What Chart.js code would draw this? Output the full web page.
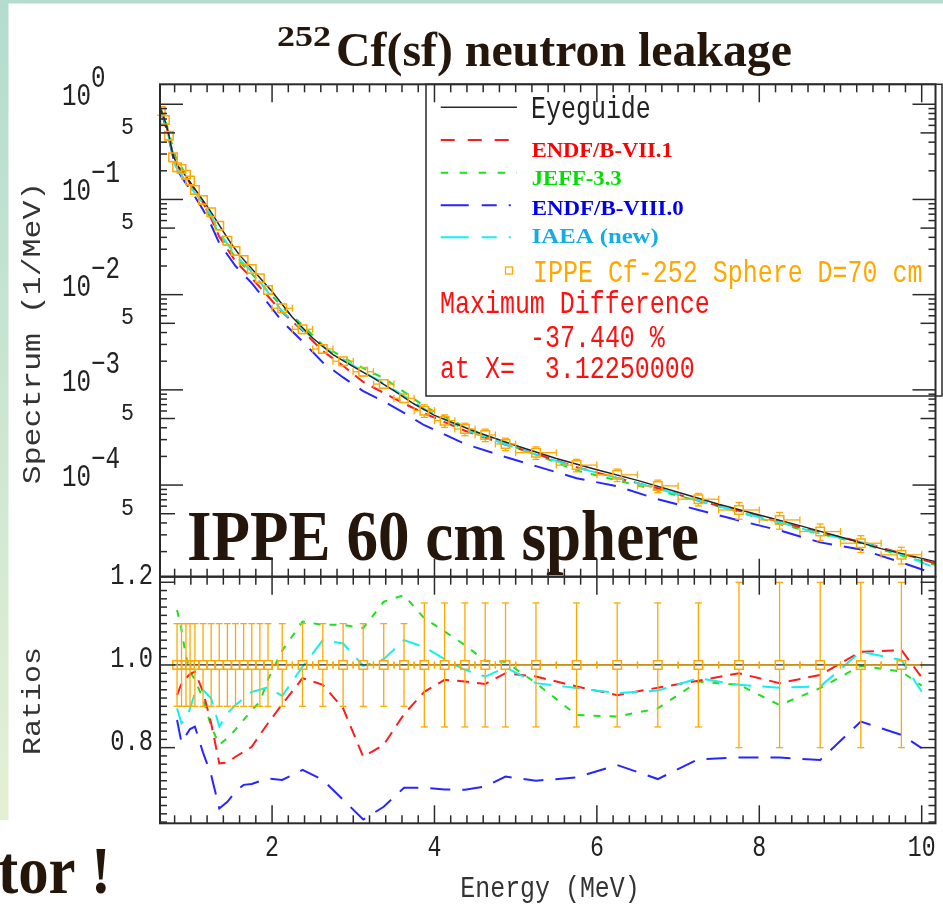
<!DOCTYPE html>
<html>
<head>
<meta charset="utf-8">
<script src="https://cdn.jsdelivr.net/npm/chart.js@4.4.1/dist/chart.umd.min.js"></script>
<style>
  html, body { margin: 0; padding: 0; background: #fff; }
  #wrap { position: relative; width: 943px; height: 909px; overflow: hidden; }
  #wrap canvas { position: absolute; left: 0; top: 0; }
</style>
</head>
<body>
<div id="wrap">
  <canvas id="spec" width="943" height="909"></canvas>
  <canvas id="ratio" width="943" height="909"></canvas>
</div>
<script>
// IPPE measured leakage spectrum (1/MeV) with relative errors and bin half-widths (MeV)
const energy = [0.63, 0.68, 0.73, 0.78, 0.83, 0.885, 0.94, 0.99, 1.05, 1.15, 1.25, 1.35, 1.45, 1.55, 1.65, 1.75, 1.85, 1.95,
    2.125, 2.375, 2.625, 2.875, 3.1225, 3.375, 3.625, 3.875, 4.125, 4.375, 4.625, 4.875,
    5.25, 5.75, 6.25, 6.75, 7.25, 7.75, 8.25, 8.75, 9.25, 9.75];
const ippe = [0.851, 0.684, 0.468, 0.277, 0.218, 0.209, 0.182, 0.158, 0.126, 0.0988, 0.0734, 0.0531, 0.0369, 0.0288, 0.0231, 0.0186, 0.0149, 0.0112,
    0.0072, 0.00433, 0.00269, 0.00200, 0.00155, 0.00115, 0.000816, 0.000605, 0.000475, 0.000388, 0.000336, 0.000270,
    0.000219, 0.000162, 0.000128, 0.000098, 0.000071, 0.0000547, 0.0000430, 0.0000325, 0.0000245, 0.0000185];
const ippeErr = [0.1, 0.1, 0.1, 0.1, 0.1, 0.1, 0.1, 0.1, 0.1, 0.1, 0.1, 0.1, 0.1, 0.1, 0.1, 0.1, 0.1, 0.1,
    0.1, 0.1, 0.1, 0.1, 0.1, 0.1, 0.1, 0.15, 0.15, 0.15, 0.15, 0.15,
    0.15, 0.15, 0.15, 0.15, 0.15, 0.2, 0.2, 0.2, 0.2, 0.2];
const halfBin = [0.025, 0.025, 0.025, 0.025, 0.025, 0.025, 0.025, 0.025, 0.05, 0.05, 0.05, 0.05, 0.05, 0.05, 0.05, 0.05, 0.05, 0.05,
    0.125, 0.125, 0.125, 0.125, 0.125, 0.125, 0.125, 0.125, 0.125, 0.125, 0.125, 0.125,
    0.25, 0.25, 0.25, 0.25, 0.25, 0.25, 0.25, 0.25, 0.25, 0.25];

// eyeguide through the measurement
const eyeE = [0.62, 0.68, 0.73, 0.78, 0.84, 0.9, 1.0, 1.1, 1.2, 1.3, 1.4, 1.5, 1.6, 1.8, 2.0, 2.25, 2.5, 2.75, 3.0, 3.25, 3.5, 3.75,
    4.0, 4.5, 5.0, 5.5, 6.0, 6.5, 7.0, 7.5, 8.0, 8.5, 9.0, 9.5, 10.17];
const eyeY = [0.92, 0.68, 0.47, 0.29, 0.225, 0.195, 0.148, 0.112, 0.085, 0.063, 0.046, 0.034, 0.026, 0.0168, 0.0108, 0.0058, 0.0035, 0.00235,
    0.00175, 0.00133, 0.00098, 0.00071, 0.00054, 0.000365, 0.00026, 0.00019, 0.000145, 0.000112, 0.000084, 0.000063, 0.0000485,
    0.0000375, 0.0000285, 0.0000215, 0.0000157];

// calculated spectra (1/MeV)
const calcE = [0.62, 0.7, 0.81, 0.935, 1.05, 1.15, 1.25, 1.35, 1.55, 1.75, 1.95, 2.125, 2.375, 2.625, 2.875, 3.1225, 3.375, 3.625, 3.875,
    4.375, 4.875, 5.25, 5.75, 6.25, 6.75, 7.25, 7.75, 8.25, 8.75, 9.25, 9.75, 10.17];
const endf71 = [0.94, 0.60, 0.232, 0.174, 0.124, 0.0924, 0.0631, 0.0405, 0.0224, 0.0149, 0.00962, 0.00652, 0.00419, 0.00256, 0.00179, 0.00121,
    0.000928, 0.000719, 0.000566, 0.000372, 0.000265, 0.000213, 0.000154, 0.000119, 0.0000926, 0.0000683, 0.0000536, 0.0000411,
    0.0000317, 0.0000253, 0.0000192, 0.0000150];
const jeff33 = [0.93, 0.62, 0.283, 0.184, 0.121, 0.0908, 0.0625, 0.0429, 0.0243, 0.0166, 0.0108, 0.00743, 0.00478, 0.00295, 0.00219, 0.00169,
    0.00133, 0.000954, 0.000673, 0.000407, 0.000272, 0.000209, 0.000142, 0.000112, 0.0000877, 0.0000682, 0.0000521, 0.0000388,
    0.0000307, 0.0000245, 0.0000182, 0.0000145];
const endf80 = [0.90, 0.55, 0.217, 0.149, 0.107, 0.0779, 0.0539, 0.0347, 0.020, 0.0132, 0.00812, 0.0052, 0.00323, 0.00194, 0.00135, 0.00097,
    0.000756, 0.000574, 0.000425, 0.000271, 0.000197, 0.000158, 0.000118, 0.000097, 0.000071, 0.0000548, 0.0000424, 0.0000334,
    0.000025, 0.0000211, 0.0000154, 0.0000116];
const iaea = [0.93, 0.58, 0.224, 0.157, 0.117, 0.0929, 0.0675, 0.0452, 0.026, 0.0174, 0.0106, 0.00666, 0.00431, 0.00285, 0.0021, 0.00155,
    0.00117, 0.000865, 0.000631, 0.000383, 0.000268, 0.000209, 0.000153, 0.000119, 0.0000919, 0.0000687, 0.0000521, 0.0000406,
    0.0000308, 0.0000253, 0.0000187, 0.0000135];

// C/E ratios
const ratioE = [0.83, 0.885, 0.94, 0.99, 1.05, 1.15, 1.25, 1.35, 1.45, 1.55, 1.65, 1.75, 1.85, 1.95, 2.125, 2.375, 2.625, 2.875, 3.1225,
    3.375, 3.625, 3.875, 4.125, 4.375, 4.625, 4.875, 5.25, 5.75, 6.25, 6.75, 7.25, 7.75, 8.25, 8.75, 9.25, 9.75, 10.0];
const ratioEndf71 = [0.927, 0.955, 0.968, 0.978, 0.984, 0.935, 0.859, 0.762, 0.764, 0.778, 0.790, 0.802, 0.831, 0.859, 0.905, 0.968, 0.952,
    0.895, 0.778, 0.807, 0.881, 0.935, 0.964, 0.960, 0.954, 0.980, 0.972, 0.948, 0.927, 0.945, 0.962, 0.980, 0.956, 0.976, 1.032, 1.036, 0.970];
const ratioJeff33 = [1.133, 1.085, 1.02, 0.984, 0.964, 0.919, 0.851, 0.807, 0.823, 0.844, 0.867, 0.891, 0.911, 0.965, 1.035, 1.105, 1.097,
    1.097, 1.089, 1.153, 1.169, 1.113, 1.081, 1.048, 1.010, 1.008, 0.956, 0.879, 0.875, 0.895, 0.960, 0.952, 0.903, 0.944, 0.998, 0.984, 0.950];
const ratioEndf80 = [0.867, 0.812, 0.83, 0.845, 0.851, 0.788, 0.734, 0.653, 0.669, 0.694, 0.71, 0.712, 0.719, 0.725, 0.722, 0.746, 0.722,
    0.674, 0.626, 0.657, 0.703, 0.703, 0.699, 0.698, 0.706, 0.73, 0.72, 0.728, 0.758, 0.724, 0.772, 0.776, 0.776, 0.77, 0.863, 0.831, 0.799];
const ratioIaea = [0.895, 0.859, 0.87, 0.895, 0.932, 0.94, 0.919, 0.851, 0.883, 0.903, 0.919, 0.935, 0.94, 0.946, 0.925, 0.996, 1.06,
    1.052, 0.998, 1.014, 1.06, 1.043, 1.014, 0.988, 0.972, 0.994, 0.956, 0.944, 0.932, 0.938, 0.968, 0.952, 0.945, 0.948, 1.032, 1.012, 0.935];
// measurement on the ratio panel (points from 0.83 MeV up)
const ippeRatio = [1, 1, 1, 1, 1, 1, 1, 1, 1, 1, 1, 1, 1, 1, 1, 1, 1, 1, 1, 1, 1, 1, 1, 1, 1, 1, 1, 1, 1, 1, 1, 1, 1, 1, 1, 1];
const eyeRatioE = [0.79, 10.0];
const eyeRatio = [1, 1];

const ORANGE = '#ffa800';
const RED = '#ff1c1c';
const GREEN = '#1ee01e';
const BLUE = '#2626ff';
const CYAN = '#12f0f0';
const INK = '#24160a';
const MONO = '"Liberation Mono", monospace';
const SERIF = '"Liberation Serif", serif';

const pts = (xs, ys) => xs.map((x, i) => ({ x, y: ys[i] }));

function line(ctx, x1, y1, x2, y2) {
    ctx.beginPath();
    ctx.moveTo(x1, y1);
    ctx.lineTo(x2, y2);
    ctx.stroke();
}

function label(ctx, s, x, y, o) {
    ctx.save();
    ctx.font = o.font;
    ctx.fillStyle = o.color || '#222';
    ctx.textAlign = o.align || 'left';
    ctx.textBaseline = 'alphabetic';
    let sx = o.sx || 1;
    if (o.width) sx = o.width / ctx.measureText(s).width;
    ctx.translate(x, y);
    if (o.rotate) {
        ctx.rotate(o.rotate);
        ctx.scale(1, o.sy || 1);
    } else {
        ctx.scale(sx, 1);
    }
    ctx.fillText(s, 0, 0);
    ctx.restore();
}

// frame with inward ticks on all four sides plus y tick labels
const axisFrame = {
    id: 'axisFrame',
    afterDraw(chart, args, opts) {
        const { ctx, chartArea: a, scales: { x, y } } = chart;
        ctx.save();
        ctx.strokeStyle = '#2a2a2a';
        ctx.lineWidth = 1.5;
        for (let k = 4; k <= 51; k++) {
            const v = k / 5;
            if (v < x.min || v > x.max) continue;
            const px = x.getPixelForValue(v);
            const len = k % 10 === 0 ? 18 : 8;
            line(ctx, px, a.bottom, px, a.bottom - len);
            line(ctx, px, a.top, px, a.top + len);
        }
        const yt = [];
        if (opts.kind === 'log') {
            for (let e = -5; e <= 0; e++) {
                for (let m = 1; m <= 9; m++) {
                    const v = m * Math.pow(10, e);
                    if (v >= y.min && v <= y.max) yt.push([v, m === 1 ? 23 : m === 5 ? 15 : 7]);
                }
            }
        } else {
            for (let k = 31; k <= 60; k++) yt.push([k / 50, k % 10 === 0 ? 15 : 7]);
        }
        yt.forEach(([v, len]) => {
            const py = y.getPixelForValue(v);
            line(ctx, a.left, py, a.left + len, py);
            line(ctx, a.right, py, a.right - len, py);
        });
        ctx.lineWidth = 2;
        ctx.strokeRect(a.left, a.top, a.right - a.left, a.bottom - a.top);
        ctx.restore();

        if (opts.kind === 'log') {
            for (let e = 0; e >= -4; e--) {
                const py = y.getPixelForValue(Math.pow(10, e));
                label(ctx, '10', 62, py + 1, { font: `31px ${MONO}`, sx: 0.78 });
                label(ctx, e === 0 ? '0' : '\u2212' + (-e), 91, py - 17, { font: `31px ${MONO}`, sx: 0.78 });
            }
            for (let e = -1; e >= -5; e--) {
                const py = y.getPixelForValue(5 * Math.pow(10, e));
                label(ctx, '5', 121, py + 1, { font: `24px ${MONO}`, sx: 0.9 });
            }
        } else {
            [1.2, 1.0, 0.8].forEach((v) => {
                const py = y.getPixelForValue(v);
                label(ctx, v.toFixed(1), 153, py + 2, { font: `29px ${MONO}`, sx: 0.82, align: 'right' });
            });
            [2, 4, 6, 8, 10].forEach((v) => {
                label(ctx, String(v), x.getPixelForValue(v), 856, { font: `29px ${MONO}`, sx: 0.8, align: 'center' });
            });
        }
    },
};

// horizontal and vertical error bars around the open squares
const errorBars = {
    id: 'errorBars',
    afterDatasetsDraw(chart) {
        const { ctx, scales: { x, y } } = chart;
        chart.data.datasets.forEach((ds) => {
            if (!ds.relErr) return;
            ctx.save();
            ctx.strokeStyle = ORANGE;
            ctx.lineWidth = 1.3;
            const h = 4.2;
            ds.data.forEach((p, i) => {
                const px = x.getPixelForValue(p.x);
                const py = y.getPixelForValue(p.y);
                const top = y.getPixelForValue(p.y * (1 + ds.relErr[i]));
                const bot = y.getPixelForValue(p.y * (1 - ds.relErr[i]));
                const lft = x.getPixelForValue(p.x - ds.halfBin[i]);
                const rgt = x.getPixelForValue(p.x + ds.halfBin[i]);
                if (py - top > h) {
                    line(ctx, px, py - h, px, top);
                    line(ctx, px - 3.5, top, px + 3.5, top);
                }
                if (bot - py > h) {
                    line(ctx, px, py + h, px, bot);
                    line(ctx, px - 3.5, bot, px + 3.5, bot);
                }
                if (px - lft > h) {
                    line(ctx, px - h, py, lft, py);
                    line(ctx, lft, py - 3.5, lft, py + 3.5);
                }
                if (rgt - px > h) {
                    line(ctx, px + h, py, rgt, py);
                    line(ctx, rgt, py - 3.5, rgt, py + 3.5);
                }
            });
            ctx.restore();
        });
    },
};

// slide background, titles and the legend box
const slide = {
    id: 'slide',
    beforeDraw(chart) {
        const { ctx } = chart;
        ctx.save();
        ctx.fillStyle = '#fff';
        ctx.fillRect(0, 0, 943, 909);
        const g = ctx.createLinearGradient(0, 0, 0, 820);
        g.addColorStop(0, '#b3dccf');
        g.addColorStop(1, '#e4f0d4');
        ctx.fillStyle = g;
        ctx.fillRect(0, 0, 8.5, 820);
        ctx.fillStyle = '#b5dcd0';
        ctx.fillRect(0, 0, 943, 3.5);
        ctx.restore();
    },
    afterDraw(chart) {
        const { ctx } = chart;
        label(ctx, '252', 277, 46, { font: `bold 29px ${SERIF}`, color: INK, width: 54 });
        label(ctx, 'Cf(sf) neutron leakage', 336, 66, { font: `bold 49px ${SERIF}`, color: INK, width: 456 });
        label(ctx, 'IPPE 60 cm sphere', 187, 560, { font: `bold 71px ${SERIF}`, color: INK, width: 512 });

        ctx.save();
        ctx.strokeStyle = '#2a2a2a';
        ctx.lineWidth = 1.5;
        ctx.strokeRect(426, 84.3, 516, 311.7);
        const samples = [
            ['#2b2b2b', [], 107.3, 1.5],
            [RED, [14, 13], 140, 2],
            [GREEN, [7.5, 11.5], 172.7, 2],
            [BLUE, [28, 13, 15, 12, 2, 60], 205.3, 2],
            [CYAN, [28, 13, 15, 12, 2, 60], 237.3, 2],
        ];
        samples.forEach(([c, dash, yy, w]) => {
            ctx.strokeStyle = c;
            ctx.lineWidth = w;
            ctx.setLineDash(dash);
            line(ctx, 440.7, yy, 517, yy);
        });
        ctx.setLineDash([]);
        ctx.strokeStyle = ORANGE;
        ctx.lineWidth = 1.3;
        ctx.strokeRect(505.5, 267, 7, 7);
        ctx.restore();

        const mono = { font: `32px ${MONO}`, sx: 0.78 };
        label(ctx, 'Eyeguide', 531, 118.3, { ...mono, color: '#222' });
        label(ctx, 'ENDF/B-VII.1', 531.7, 156.7, { font: `bold 22px ${SERIF}`, color: '#ff0000', width: 141 });
        label(ctx, 'JEFF-3.3', 531.7, 185, { font: `bold 22px ${SERIF}`, color: '#00e000', width: 90 });
        label(ctx, 'ENDF/B-VIII.0', 531.7, 215, { font: `bold 22px ${SERIF}`, color: '#0000e8', width: 152 });
        label(ctx, 'IAEA (new)', 531.7, 243.3, { font: `bold 22px ${SERIF}`, color: '#14ace4', width: 127 });
        label(ctx, 'IPPE Cf-252 Sphere D=70 cm', 533, 281.7, { ...mono, color: ORANGE });
        label(ctx, 'Maximum Difference', 440, 313.3, { ...mono, color: '#ff1010' });
        label(ctx, '-37.440 %', 530, 346.7, { ...mono, color: '#ff1010' });
        label(ctx, 'at X=  3.12250000', 440, 378.3, { ...mono, color: '#ff1010' });

        label(ctx, 'Spectrum (1/MeV)', 39.5, 333, { font: `31.5px ${MONO}`, color: '#333', align: 'center', rotate: -Math.PI / 2, sy: 0.83 });
    },
};

const bottomText = {
    id: 'bottomText',
    afterDraw(chart) {
        const { ctx } = chart;
        label(ctx, 'Ratios', 40, 701, { font: `30px ${MONO}`, color: '#333', align: 'center', rotate: -Math.PI / 2, sy: 0.83 });
        label(ctx, 'Energy (MeV)', 550, 897, { font: `30px ${MONO}`, color: '#333', sx: 0.83, align: 'center' });
        label(ctx, 'tor !', -2, 893, { font: `bold 68px ${SERIF}`, color: INK, width: 113 });
    },
};

const curve = (data, color, dash, width) => ({
    data,
    showLine: true,
    borderColor: color,
    borderWidth: width,
    borderDash: dash,
    pointRadius: 0,
    tension: 0,
    fill: false,
});

const common = {
    responsive: false,
    devicePixelRatio: 1,
    animation: false,
    events: [],
    plugins: { legend: { display: false }, tooltip: { enabled: false } },
};

new Chart(document.getElementById('spec'), {
    type: 'scatter',
    data: {
        datasets: [
            {
                data: pts(energy, ippe),
                relErr: ippeErr,
                halfBin: halfBin,
                pointStyle: 'rect',
                pointRadius: 6,
                borderColor: ORANGE,
                backgroundColor: 'rgba(0,0,0,0)',
                pointBorderWidth: 1.5,
            },
            curve(pts(eyeE, eyeY), '#262626', [], 1.5),
            curve(pts(calcE, iaea), CYAN, [18, 11], 2),
            curve(pts(calcE, endf71), RED, [12, 8], 2),
            curve(pts(calcE, jeff33), GREEN, [7, 9], 2),
            curve(pts(calcE, endf80), BLUE, [20, 12], 2),
        ],
    },
    options: {
        ...common,
        layout: { padding: { left: 160, top: 84.3, right: 1.3, bottom: 332.3 } },
        scales: {
            x: { type: 'linear', min: 0.62, max: 10.17, display: false },
            y: { type: 'logarithmic', min: 1.09e-5, max: 1.62, display: false },
        },
        plugins: { ...common.plugins, axisFrame: { kind: 'log' } },
    },
    plugins: [slide, errorBars, axisFrame],
});

new Chart(document.getElementById('ratio'), {
    type: 'scatter',
    data: {
        datasets: [
            {
                data: pts(energy.slice(4), ippeRatio),
                relErr: ippeErr.slice(4),
                halfBin: halfBin.slice(4),
                pointStyle: 'rect',
                pointRadius: 6,
                borderColor: ORANGE,
                backgroundColor: 'rgba(0,0,0,0)',
                pointBorderWidth: 1.5,
            },
            curve(pts(eyeRatioE, eyeRatio), '#262626', [], 1.3),
            curve(pts(ratioE, ratioIaea), CYAN, [18, 11], 2),
            curve(pts(ratioE, ratioEndf71), RED, [12, 8], 2),
            curve(pts(ratioE, ratioJeff33), GREEN, [7, 9], 2),
            curve(pts(ratioE, ratioEndf80), BLUE, [20, 12], 2),
        ],
    },
    options: {
        ...common,
        layout: { padding: { left: 160, top: 576.7, right: 1.3, bottom: 85.7 } },
        scales: {
            x: { type: 'linear', min: 0.62, max: 10.17, display: false },
            y: { type: 'linear', min: 0.617, max: 1.2135, display: false },
        },
        plugins: { ...common.plugins, axisFrame: { kind: 'ratio' } },
    },
    plugins: [errorBars, axisFrame, bottomText],
});
</script>
</body>
</html>
